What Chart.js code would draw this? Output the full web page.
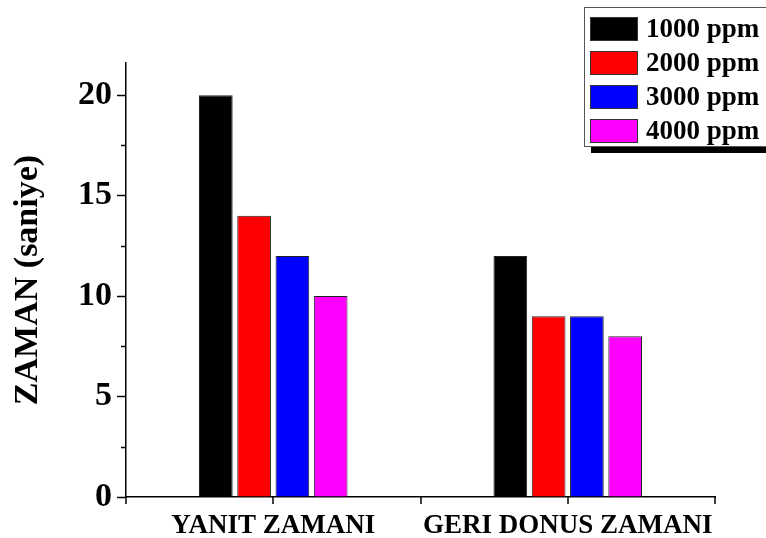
<!DOCTYPE html>
<html>
<head>
<meta charset="utf-8">
<script src="https://cdn.jsdelivr.net/npm/chart.js@4.4.1/dist/chart.umd.min.js"></script>
<style>
  html, body { margin: 0; padding: 0; background: #fff; }
  #wrap { width: 766px; height: 538px; }
</style>
</head>
<body>
<div id="wrap"><canvas id="myChart" width="766" height="538"></canvas></div>
<script>
// kategoriler ve seriler
var categories = ['YANIT ZAMANI', 'GERI DONUS ZAMANI'];
var seriesNames = ['1000 ppm', '2000 ppm', '3000 ppm', '4000 ppm'];
var ppm1000 = [20, 12];
var ppm2000 = [14, 9];
var ppm3000 = [12, 9];
var ppm4000 = [10, 8];
var yTicks = [0, 5, 10, 15, 20];
var yMinorTicks = [2.5, 7.5, 12.5, 17.5];

var colors = ['#000000', '#ff0000', '#0000ff', '#ff00ff'];
var serif = '"Liberation Serif", "Times New Roman", serif';

// ara tikler, x ekseni tikleri ve golgeli lejant
var extras = {
    id: 'extras',
    afterDraw: function (chart) {
        var ctx = chart.ctx;
        var x = chart.scales.x, y = chart.scales.y;
        ctx.save();
        ctx.strokeStyle = '#000';
        ctx.lineWidth = 1.5;
        // y ara tikler
        yMinorTicks.forEach(function (v) {
            var py = Math.round(y.getPixelForValue(v)) + 0.5;
            ctx.beginPath();
            ctx.moveTo(y.right - 5, py);
            ctx.lineTo(y.right, py);
            ctx.stroke();
        });
        // x tikler: kenarlar, orta nokta ve kategori merkezleri
        var xs = [x.left, x.right];
        for (var i = 0; i < categories.length; i++) {
            xs.push(x.getPixelForValue(i));
            if (i > 0) xs.push((x.getPixelForValue(i - 1) + x.getPixelForValue(i)) / 2);
        }
        xs.forEach(function (px) {
            px = Math.round(px);
            ctx.beginPath();
            ctx.moveTo(px, x.top);
            ctx.lineTo(px, x.top + 7);
            ctx.stroke();
        });

        // lejant
        var lx = 584, ly = 7, lw = 200, lh = 139;
        ctx.fillStyle = '#000';
        ctx.fillRect(lx + 7, ly + 7, lw, lh);
        ctx.fillStyle = '#fff';
        ctx.fillRect(lx, ly, lw, lh);
        ctx.lineWidth = 1;
        ctx.strokeStyle = '#555';
        ctx.strokeRect(lx + 0.5, ly + 0.5, lw, lh);

        ctx.font = 'bold 27px ' + serif;
        ctx.textBaseline = 'middle';
        ctx.textAlign = 'left';
        chart.data.datasets.forEach(function (ds, k) {
            var cy = 29 + k * 34;
            ctx.fillStyle = ds.backgroundColor;
            ctx.fillRect(590, cy - 12, 48, 24);
            ctx.strokeStyle = '#333';
            ctx.strokeRect(590.5, cy - 11.5, 47, 23);
            ctx.fillStyle = '#000';
            ctx.fillText(ds.label, 646, cy + 1);
        });
        ctx.restore();
    }
};

var chartArea = document.getElementById('myChart').getContext('2d');
var myChart = new Chart(chartArea, {
    type: 'bar',
    data: {
        labels: categories,
        datasets: [ppm1000, ppm2000, ppm3000, ppm4000].map(function (d, k) {
            return {
                label: seriesNames[k],
                data: d,
                backgroundColor: colors[k],
                borderColor: '#222',
                borderWidth: 1,
                categoryPercentage: 0.52,
                barPercentage: 0.88
            };
        })
    },
    plugins: [extras],
    options: {
        responsive: false,
        animation: false,
        layout: { padding: { top: 63, right: 51, left: 0, bottom: 0 } },
        plugins: {
            legend: { display: false },
            tooltip: { enabled: false }
        },
        scales: {
            x: {
                grid: { display: false },
                border: { color: '#000', width: 1.5 },
                ticks: {
                    color: '#000',
                    padding: 5,
                    maxRotation: 0,
                    minRotation: 0,
                    autoSkip: false,
                    font: { family: serif, size: 27, weight: 'bold' }
                },
                afterFit: function (s) { s.height = 41; }
            },
            y: {
                min: 0,
                max: 21.6,
                grid: {
                    drawOnChartArea: false,
                    tickLength: 9,
                    tickWidth: 1.5,
                    tickColor: '#000'
                },
                border: { color: '#000', width: 1.5 },
                ticks: {
                    stepSize: 5,
                    color: '#000',
                    padding: 5,
                    font: { family: serif, size: 34, weight: 'bold' }
                },
                afterBuildTicks: function (s) {
                    s.ticks = yTicks.map(function (v) { return { value: v }; });
                },
                afterFit: function (s) { s.width = 126; },
                title: {
                    display: true,
                    text: 'ZAMAN (saniye)',
                    color: '#000',
                    padding: { top: 8, bottom: 0 },
                    font: { family: serif, size: 34, weight: 'bold' }
                }
            }
        }
    }
});
</script>
</body>
</html>
